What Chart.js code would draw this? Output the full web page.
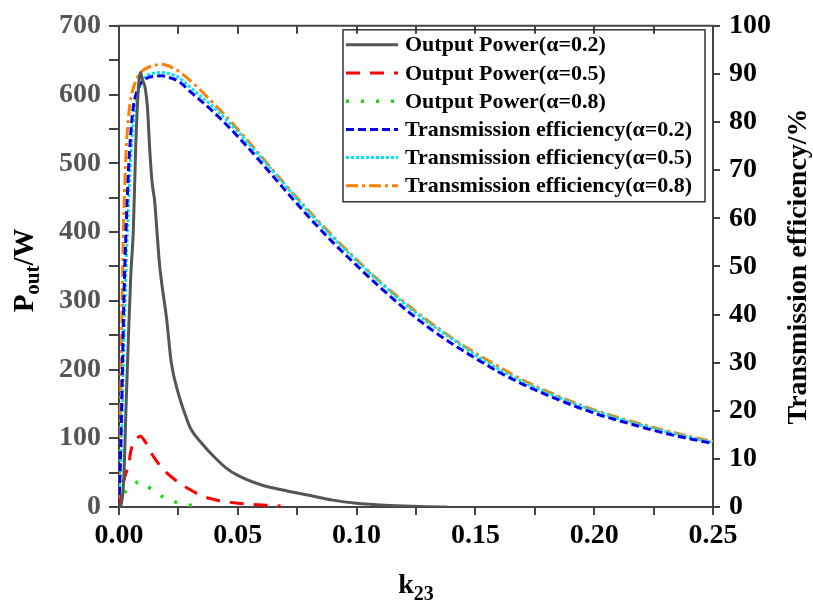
<!DOCTYPE html>
<html>
<head>
<meta charset="utf-8">
<script src="https://cdn.jsdelivr.net/npm/chart.js@4.4.1/dist/chart.umd.min.js"></script>
<style>
    body { margin: 0; background: #fff; }
</style>
</head>
<body>
<canvas id="bieudo" width="813" height="604"></canvas>
<script>
// k23 values for each curve
const kPow02 = [0, 0.001, 0.002, 0.003, 0.004, 0.005, 0.006, 0.007, 0.008, 0.009, 0.010, 0.011, 0.012, 0.013, 0.014,
    0.015, 0.016, 0.017, 0.018, 0.020, 0.022, 0.025, 0.028, 0.030, 0.035, 0.040, 0.045, 0.050, 0.060, 0.070,
    0.080, 0.090, 0.100, 0.110, 0.120, 0.130, 0.138];
const kPow05 = [0, 0.001, 0.002, 0.003, 0.004, 0.005, 0.007, 0.009, 0.011, 0.013, 0.016, 0.020, 0.025, 0.030,
    0.035, 0.040, 0.045, 0.050, 0.055, 0.060, 0.068];
const kPow08 = [0, 0.0015, 0.0025, 0.004, 0.006, 0.009, 0.012, 0.015, 0.020, 0.025, 0.030, 0.032];
const kEff = [0, 0.0005, 0.001, 0.0015, 0.002, 0.003, 0.004, 0.005, 0.006, 0.008, 0.010, 0.012, 0.015, 0.018,
    0.020, 0.025, 0.030, 0.040, 0.050, 0.060, 0.070, 0.080, 0.090, 0.100, 0.110, 0.120, 0.130, 0.140, 0.150,
    0.160, 0.170, 0.180, 0.190, 0.200, 0.210, 0.220, 0.230, 0.240, 0.250];

// output power (W)
const pow02 = [0, 5, 40, 150, 250, 340, 400, 520, 600, 632, 620, 610, 580, 516, 470,
    445, 400, 355, 325, 275, 210, 165, 133, 115, 92, 73, 57, 46, 32, 24,
    17, 10, 5.5, 3, 1.5, 0.5, 0];
const pow05 = [0, 15, 38, 50, 60, 82, 97, 103, 95, 82, 66, 50, 36, 25, 16, 11, 7.5, 5.5, 4, 3, 1.5];
const pow08 = [0, 10, 21, 28, 33, 37, 30, 22, 12, 6, 2.5, 2];

// transmission efficiency (%)
const eff02 = [0, 8, 18, 30, 42, 58, 70, 78, 83, 87, 88.5, 89.2, 89.5, 89.6, 89.4, 88.5, 86.3, 82, 77, 71.5,
    65.8, 60.2, 55, 50.2, 45.6, 41.3, 37.4, 34, 30.9, 28, 25.5, 23.3, 21.3, 19.5, 18, 16.6, 15.3, 14.2, 13.2];
const eff05 = [0, 5, 12, 22, 33, 50, 63, 73, 79.5, 86, 88.6, 89.7, 90.2, 90.3, 90.2, 89.3, 87.2, 83, 78, 72.5,
    66.8, 61.2, 56, 51.2, 46.6, 42.3, 38.4, 35, 31.6, 28.6, 26, 23.8, 21.8, 20, 18.4, 17, 15.7, 14.5, 13.4];
const eff08 = [0, 15, 32, 48, 60, 74, 81, 85, 87, 89.5, 90.7, 91.3, 91.8, 92, 91.8, 90.6, 88.6, 83.8, 78.5, 72.8,
    67, 61.5, 56.3, 51.4, 46.8, 42.6, 38.7, 35.2, 32, 29.1, 26.4, 24.1, 22, 20.2, 18.6, 17.2, 15.9, 14.7, 13.6];

const xTicks = [0, 0.25, 0.025];   // min, max, step
const yTicks = [0, 700, 50];
const y2Ticks = [0, 100, 10];

const serif = "'Times New Roman', 'Liberation Serif', serif";

function pts(xs, ys) {
    return xs.map(function (x, i) {
        return { x: x, y: ys[i] };
    });
}

// top frame line with inward ticks
const framePlugin = {
    id: 'frame',
    afterDraw(chart) {
        const c = chart.ctx, a = chart.chartArea, sx = chart.scales.x;
        c.save();
        c.strokeStyle = '#444';
        c.lineWidth = 2;
        c.beginPath();
        c.moveTo(a.left - 1, a.top);
        c.lineTo(a.right + 1, a.top);
        sx.ticks.forEach(function (t) {
            const px = Math.round(sx.getPixelForValue(t.value));
            c.moveTo(px, a.top);
            c.lineTo(px, a.top + 8);
        });
        c.stroke();
        c.restore();
    }
};

// legend box inside the plot
const legendPlugin = {
    id: 'boxlegend',
    afterDraw(chart) {
        const c = chart.ctx, a = chart.chartArea;
        const w = 362, h = 172;
        const x0 = a.right - 8 - w, y0 = a.top + 4;
        c.save();
        c.strokeStyle = '#333';
        c.lineWidth = 1.5;
        c.strokeRect(x0, y0, w, h);
        c.font = 'bold 22px ' + serif;
        c.textBaseline = 'middle';
        chart.data.datasets.forEach(function (ds, i) {
            const y = y0 + 15 + i * 28.2;
            c.strokeStyle = ds.borderColor;
            c.lineWidth = ds.borderWidth;
            c.setLineDash(ds.borderDash || []);
            c.beginPath();
            c.moveTo(x0 + 3, y);
            c.lineTo(x0 + 55, y);
            c.stroke();
            c.setLineDash([]);
            c.fillStyle = '#000';
            c.fillText(ds.label, x0 + 62, y + 1);
        });
        c.restore();
    }
};

// axis titles with subscripts
function drawSub(c, parts) {
    let x = 0;
    parts.forEach(function (p) {
        c.font = 'bold ' + p[1] + 'px ' + serif;
        x += c.measureText(p[0]).width;
    });
    x = -x / 2;
    parts.forEach(function (p) {
        c.font = 'bold ' + p[1] + 'px ' + serif;
        c.fillText(p[0], x, p[2]);
        x += c.measureText(p[0]).width;
    });
}

const titlePlugin = {
    id: 'titles',
    afterDraw(chart) {
        const c = chart.ctx, a = chart.chartArea;
        const cy = (a.top + a.bottom) / 2;
        c.save();
        c.fillStyle = '#000';
        c.textBaseline = 'alphabetic';

        c.save();
        c.translate(33, cy + 4);
        c.rotate(-Math.PI / 2);
        drawSub(c, [['P', 29, 0], ['out', 21, 6], ['/W', 29, 0]]);
        c.restore();

        c.save();
        c.translate(806, cy);
        c.rotate(-Math.PI / 2);
        drawSub(c, [['Transmission efficiency/%', 28, 0]]);
        c.restore();

        c.save();
        c.translate((a.left + a.right) / 2, 593);
        drawSub(c, [['k', 28, 0], ['23', 20, 7]]);
        c.restore();

        c.restore();
    }
};

const bieudo = document.getElementById('bieudo');

new Chart(bieudo, {
    type: 'line',
    data: {
        datasets: [{
            label: 'Output Power(α=0.2)',
            data: pts(kPow02, pow02),
            borderColor: '#555555',
            borderWidth: 3,
            yAxisID: 'y'
        }, {
            label: 'Output Power(α=0.5)',
            data: pts(kPow05, pow05),
            borderColor: '#ff0000',
            borderWidth: 3,
            borderDash: [14, 10],
            yAxisID: 'y'
        }, {
            label: 'Output Power(α=0.8)',
            data: pts(kPow08, pow08),
            borderColor: '#11dd11',
            borderWidth: 3.5,
            borderDash: [3, 12],
            yAxisID: 'y'
        }, {
            label: 'Transmission efficiency(α=0.2)',
            data: pts(kEff, eff02),
            borderColor: '#0000ee',
            borderWidth: 3,
            borderDash: [8, 4],
            yAxisID: 'y2'
        }, {
            label: 'Transmission efficiency(α=0.5)',
            data: pts(kEff, eff05),
            borderColor: '#00e5ff',
            borderWidth: 3,
            borderDash: [3, 2],
            yAxisID: 'y2'
        }, {
            label: 'Transmission efficiency(α=0.8)',
            data: pts(kEff, eff08),
            borderColor: '#ff8000',
            borderWidth: 3,
            borderDash: [12, 4, 3, 4],
            yAxisID: 'y2'
        }]
    },
    options: {
        responsive: false,
        animation: false,
        layout: { padding: { top: 24, left: 0, right: 0, bottom: 0 } },
        elements: {
            point: { radius: 0 },
            line: { cubicInterpolationMode: 'monotone', fill: false }
        },
        plugins: {
            legend: { display: false },
            tooltip: { enabled: false }
        },
        scales: {
            x: {
                type: 'linear',
                position: 'bottom',
                min: xTicks[0],
                max: xTicks[1],
                afterFit: function (s) { s.height = 97; },
                ticks: {
                    stepSize: xTicks[2],
                    autoSkip: false,
                    maxRotation: 0,
                    padding: 4,
                    color: '#000',
                    font: { family: serif, size: 28, weight: 'bold' },
                    callback: function (v) {
                        return Math.round(v * 1000) % 50 === 0 ? v.toFixed(2) : '';
                    }
                },
                grid: { drawOnChartArea: false, tickLength: 8, color: '#444', lineWidth: 2 },
                border: { color: '#444', width: 2 }
            },
            y: {
                position: 'left',
                min: yTicks[0],
                max: yTicks[1],
                afterFit: function (s) { s.width = 119; },
                ticks: {
                    stepSize: yTicks[2],
                    autoSkip: false,
                    padding: 8,
                    color: '#555',
                    font: { family: serif, size: 28, weight: 'bold' },
                    callback: function (v) {
                        return v % 100 === 0 ? v : '';
                    }
                },
                grid: { drawOnChartArea: false, tickLength: 10, color: '#444', lineWidth: 2 },
                border: { color: '#444', width: 2 }
            },
            y2: {
                position: 'right',
                min: y2Ticks[0],
                max: y2Ticks[1],
                afterFit: function (s) { s.width = 100; },
                ticks: {
                    stepSize: y2Ticks[2],
                    autoSkip: false,
                    padding: 9,
                    color: '#000',
                    font: { family: serif, size: 28, weight: 'bold' }
                },
                grid: { drawOnChartArea: false, tickLength: 7, color: '#444', lineWidth: 2 },
                border: { color: '#444', width: 2 }
            }
        }
    },
    plugins: [framePlugin, legendPlugin, titlePlugin]
});
</script>
</body>
</html>
